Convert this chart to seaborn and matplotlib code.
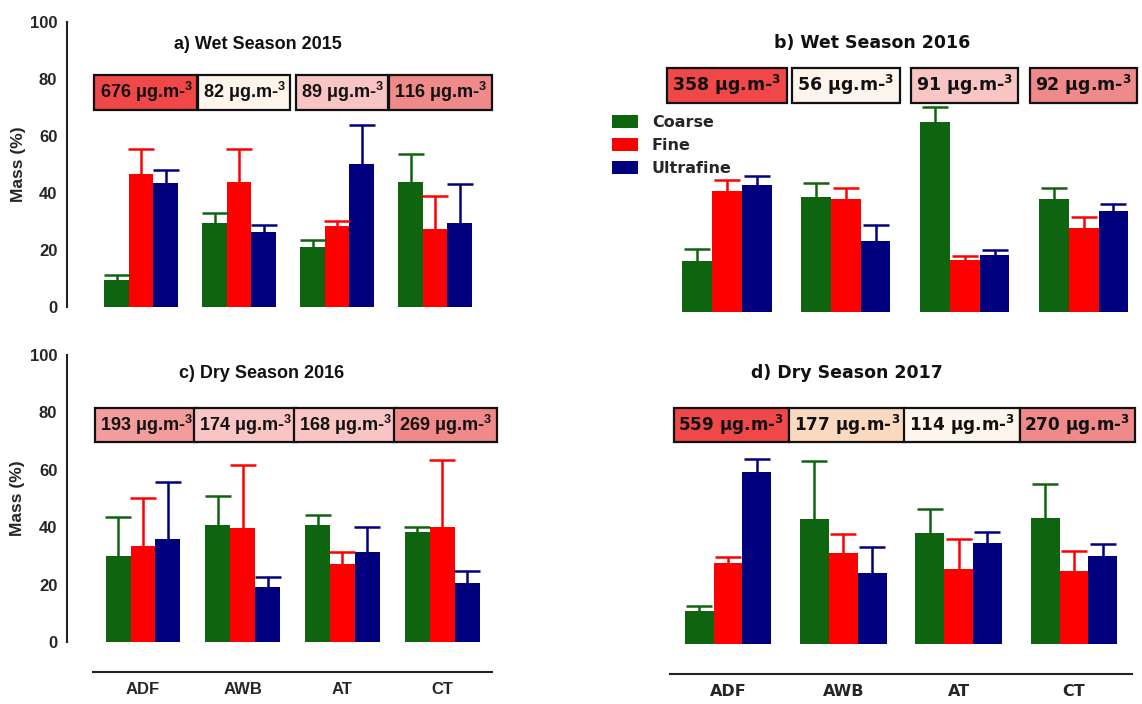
import numpy as np
import pandas as pd
import matplotlib
matplotlib.use("Agg")
import matplotlib.pyplot as plt
import seaborn as sns
from matplotlib.patches import Patch
from matplotlib.font_manager import FontProperties

# ---------------- data ----------------
sites = ["ADF", "AWB", "AT", "CT"]
fractions = ["Coarse", "Fine", "Ultrafine"]
bar_colors = ["#0f6410", "#ff0000", "#00007f"]

# a) Wet Season 2015
a_coarse = [9.4, 29.3, 21.1, 43.9]
a_fine = [46.6, 43.9, 28.3, 27.5]
a_ultra = [43.4, 26.2, 50.1, 29.3]
a_coarse_err = [1.7, 3.6, 2.4, 9.9]
a_fine_err = [8.7, 11.7, 2.0, 11.5]
a_ultra_err = [4.7, 2.7, 13.9, 13.7]
a_conc = ["676", "82", "89", "116"]
a_box_colors = ["#f04848", "#fdf4ec", "#f9c4c4", "#f08a8a"]

# b) Wet Season 2016
b_coarse = [17.9, 40.2, 66.5, 39.8]
b_fine = [42.3, 39.8, 18.1, 29.5]
b_ultra = [44.4, 24.8, 20.0, 35.3]
b_coarse_err = [4.3, 5.2, 5.3, 3.8]
b_fine_err = [3.9, 3.7, 1.4, 3.8]
b_ultra_err = [3.2, 5.6, 1.9, 2.5]
b_conc = ["358", "56", "91", "92"]
b_box_colors = ["#f04848", "#fdf4ec", "#f9c4c4", "#f08a8a"]

# c) Dry Season 2016
c_coarse = [29.8, 40.6, 40.7, 38.4]
c_fine = [33.6, 39.6, 27.1, 40.1]
c_ultra = [36.0, 19.3, 31.3, 20.6]
c_coarse_err = [13.6, 10.1, 3.6, 1.6]
c_fine_err = [16.5, 22.0, 4.2, 23.4]
c_ultra_err = [19.8, 3.3, 8.8, 4.0]
c_conc = ["193", "174", "168", "269"]
c_box_colors = ["#f39c9c", "#f9c4c4", "#f9c4c4", "#f08a8a"]

# d) Dry Season 2017
d_coarse = [11.6, 43.7, 38.7, 43.9]
d_fine = [28.2, 31.7, 26.2, 25.6]
d_ultra = [60.0, 24.9, 35.1, 30.7]
d_coarse_err = [1.6, 20.1, 8.2, 11.8]
d_fine_err = [2.2, 6.5, 10.3, 6.9]
d_ultra_err = [4.6, 9.0, 3.8, 4.1]
d_conc = ["559", "177", "114", "270"]
d_box_colors = ["#f04848", "#fbd9bf", "#fdf4ec", "#f08a8a"]

titles = ["a) Wet Season 2015", "b) Wet Season 2016",
          "c) Dry Season 2016", "d) Dry Season 2017"]
yticks = [0, 20, 40, 60, 80, 100]

# ---------------- style ----------------
sns.set_style("white")
plt.rcParams["font.family"] = ["Liberation Sans", "DejaVu Sans"]
plt.rcParams["font.weight"] = "bold"
plt.rcParams["mathtext.fontset"] = "custom"
plt.rcParams["mathtext.rm"] = "Liberation Sans:bold"
plt.rcParams["mathtext.bf"] = "Liberation Sans:bold"
plt.rcParams["mathtext.default"] = "bf"

W, H = 1142, 704
fig = plt.figure(figsize=(W / 100, H / 100), dpi=100)


def add_ax(l, t, r, b):
    return fig.add_axes([l / W, 1 - b / H, (r - l) / W, (b - t) / H])


panels = [
    dict(box=(67, 22, 494, 307), xlim=(-0.755, 3.6), left=True, bottom=False,
         c=a_coarse, f=a_fine, u=a_ultra, ce=a_coarse_err, fe=a_fine_err, ue=a_ultra_err,
         conc=a_conc, bc=a_box_colors, title_xy=(1.19, 92.0), box_y=75.3, box_dx=0.05,
         fam="Liberation Sans", mff="custom", tsize=13, bsize=13, pad=0.28, xs=12),
    dict(box=(600, 27, 1142, 312), xlim=(-1.067, 3.49), left=False, bottom=False,
         c=b_coarse, f=b_fine, u=b_ultra, ce=b_coarse_err, fe=b_fine_err, ue=b_ultra_err,
         conc=b_conc, bc=b_box_colors, title_xy=(1.22, 94.4), box_y=79.5, box_dx=0.0,
         fam="DejaVu Sans", mff="dejavusans", tsize=12.5, bsize=12.5, pad=0.3, xs=11),
    dict(box=(67, 355, 502, 642), xlim=(-0.762, 3.6), left=True, bottom=True,
         c=c_coarse, f=c_fine, u=c_ultra, ce=c_coarse_err, fe=c_fine_err, ue=c_ultra_err,
         conc=c_conc, bc=c_box_colors, title_xy=(1.19, 93.7), box_y=75.6, box_dx=0.03,
         fam="Liberation Sans", mff="custom", tsize=13, bsize=13, pad=0.28, xs=12),
    dict(box=(600, 357, 1142, 644), xlim=(-1.11, 3.59), left=False, bottom=True,
         c=d_coarse, f=d_fine, u=d_ultra, ce=d_coarse_err, fe=d_fine_err, ue=d_ultra_err,
         conc=d_conc, bc=d_box_colors, title_xy=(1.03, 94.4), box_y=76.3, box_dx=0.03,
         fam="DejaVu Sans", mff="dejavusans", tsize=12.5, bsize=12.2, pad=0.28, xs=11.5),
]

axes = []
for p, title in zip(panels, titles):
    ax = add_ax(*p["box"])
    axes.append(ax)
    df = pd.DataFrame({
        "site": sites * 3,
        "fraction": [fr for fr in fractions for _ in sites],
        "value": p["c"] + p["f"] + p["u"],
    })
    sns.barplot(data=df, x="site", y="value", hue="fraction", order=sites,
                hue_order=fractions, palette=bar_colors, width=0.75,
                saturation=1, errorbar=None, legend=False, linewidth=0, ax=ax)
    means = [p["c"], p["f"], p["u"]]
    errs = [p["ce"], p["fe"], p["ue"]]
    for cont, m, e, col in zip(ax.containers, means, errs, bar_colors):
        xs = [bar.get_x() + bar.get_width() / 2 for bar in cont]
        eb = ax.errorbar(xs, m, yerr=[np.zeros(len(e)), e], fmt="none", ecolor=col,
                         elinewidth=1.8, capsize=9.5, capthick=1.8, zorder=3)
        caplines = eb[1]
        if len(caplines) == 2:
            caplines[0].set_visible(False)  # hide cap at bar top (lower side)

    ax.set_ylim(0, 100)
    ax.set_xlim(*p["xlim"])
    ax.set_xlabel("")
    ax.set_ylabel("")
    ax.set_facecolor("white")
    for s in ["top", "right"]:
        ax.spines[s].set_visible(False)

    fp = FontProperties(family=p["fam"], weight="bold")

    if p["left"]:
        ax.spines["left"].set_linewidth(1.5)
        ax.spines["left"].set_color("#222222")
        ax.set_yticks(yticks)
        ax.tick_params(axis="y", direction="out", length=5, width=1.5,
                       color="#222222", pad=2)
        for lab in ax.get_yticklabels():
            lab.set_fontproperties(fp)
            lab.set_fontsize(12)
        ax.set_ylabel("Mass (%)", fontproperties=fp, fontsize=12.5)
        ax.yaxis.set_label_coords(-0.097, 0.5)
    else:
        ax.spines["left"].set_visible(False)
        ax.set_yticks([])

    if p["bottom"]:
        ax.spines["bottom"].set_position(("outward", 21.6))
        ax.spines["bottom"].set_bounds(-0.5, 3.5)
        ax.spines["bottom"].set_linewidth(1.5)
        ax.spines["bottom"].set_color("#222222")
        ax.tick_params(axis="x", direction="out", length=4, width=1.3,
                       color="#222222", pad=3)
        ax.set_xticks(range(len(sites)))
        ax.set_xticklabels(sites)
        for lab in ax.get_xticklabels():
            lab.set_fontproperties(fp)
            lab.set_fontsize(p["xs"])
    else:
        ax.spines["bottom"].set_visible(False)
        ax.set_xticks([])

    tx, ty = p["title_xy"]
    ax.text(tx, ty, title, ha="center", va="center", fontproperties=fp,
            fontsize=p["tsize"], color="#111111")

    for i, (conc, bc) in enumerate(zip(p["conc"], p["bc"])):
        ax.text(i + p["box_dx"], p["box_y"], conc + " \u03bcg.m-$^{3}$", ha="center",
                va="center", fontproperties=fp, fontsize=p["bsize"],
                math_fontfamily=p["mff"], color="#111111",
                bbox=dict(boxstyle="square,pad=%.2f" % p["pad"], fc=bc,
                          ec="#111111", lw=1.6),
                zorder=5)

# legend in panel b
handles = [Patch(facecolor=c, edgecolor="none", label=f)
           for c, f in zip(bar_colors, fractions)]
axes[1].legend(handles=handles, loc="upper left",
               bbox_to_anchor=(612 / W, 1 - 115 / H), bbox_transform=fig.transFigure,
               frameon=False, handlelength=1.6, handleheight=0.8, handletextpad=0.9,
               labelspacing=0.5, borderpad=0, borderaxespad=0,
               prop=FontProperties(family="DejaVu Sans", weight="bold", size=11.5))

fig.savefig("out.png", dpi=100, facecolor="white")
